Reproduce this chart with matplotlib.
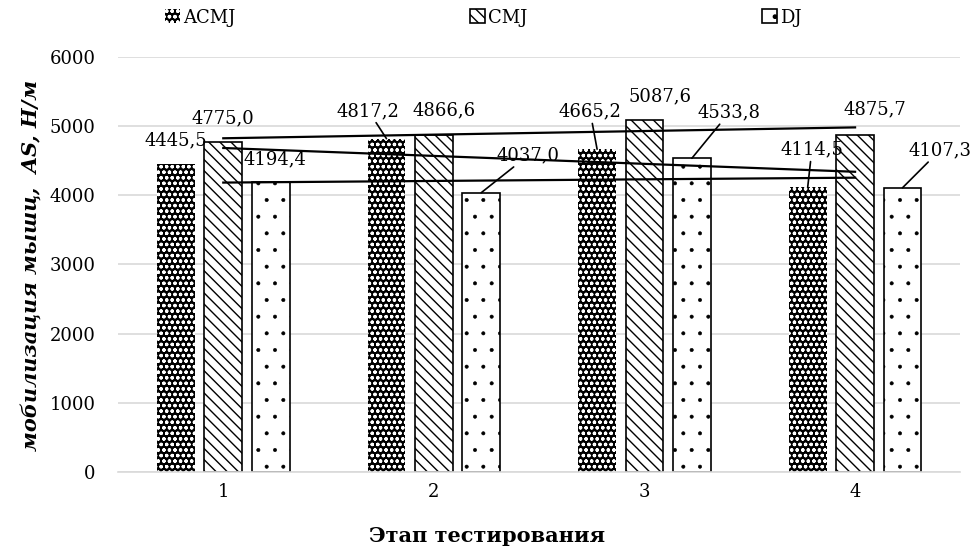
import numpy as np
import matplotlib
matplotlib.use("Agg")
import matplotlib.pyplot as plt

# ---------------------------------------------------------------------
# Data
# ---------------------------------------------------------------------
stages = [1, 2, 3, 4]
series_names = ["ACMJ", "CMJ", "DJ"]
acmj = [4445.5, 4817.2, 4665.2, 4114.5]
cmj = [4775.0, 4866.6, 5087.6, 4875.7]
dj = [4194.4, 4037.0, 4533.8, 4107.3]
y_ticks = [0, 1000, 2000, 3000, 4000, 5000, 6000]

# ---------------------------------------------------------------------
# Styling / layout
# ---------------------------------------------------------------------
plt.rcParams["font.family"] = ["DejaVu Serif"]

bar_w = 0.18
offsets = [-0.225, 0.0, 0.225]
styles = [
    dict(facecolor="black", edgecolor="white", linewidth=0, hatch="ooo"),
    dict(facecolor="white", edgecolor="black", linewidth=1.2, hatch="\\\\\\"),
    dict(facecolor="white", edgecolor="black", linewidth=1.2, hatch="."),
]
hatch_lw = [0.9, 1.0, 0.4]
# label offsets from bar top (points) and whether Excel drew a leader line
label_offsets = [
    [(0, 17), (-13, 20), (-5, 27), (3, 27)],
    [(0, 17), (7, 18), (11, 17), (14, 18)],
    [(3, 16), (34, 27), (27, 33), (27, 27)],
]
leaders = [
    [False, True, True, True],
    [False, False, False, False],
    [False, True, True, True],
]

fig = plt.figure(figsize=(9.75, 5.51), dpi=100)
ax = fig.add_axes([0.121, 0.143, 0.864, 0.754])

x = np.array(stages, dtype=float)
all_vals = [acmj, cmj, dj]
for i, (vals, name) in enumerate(zip(all_vals, series_names)):
    xs = x + offsets[i]
    with plt.rc_context({"hatch.linewidth": hatch_lw[i]}):
        ax.bar(xs, vals, width=bar_w, label=name, zorder=2, **styles[i])
    for j, v in enumerate(vals):
        dx, dy = label_offsets[i][j]
        txt = f"{v:.1f}".replace(".", ",")
        kw = {}
        if leaders[i][j]:
            kw["arrowprops"] = dict(arrowstyle="-", color="black", lw=1.2,
                                    shrinkA=0, shrinkB=0)
        ax.annotate(txt, xy=(xs[j], v), xytext=(dx, dy),
                    textcoords="offset points", ha="center", va="center",
                    fontsize=13, zorder=4, **kw)

# linear trendlines (Excel style), one per series
for vals in all_vals:
    k, b = np.polyfit(x, vals, 1)
    ax.plot([x[0], x[-1]], [k * x[0] + b, k * x[-1] + b],
            color="black", lw=1.6, zorder=3)

ax.set_xlim(0.5, 4.5)
ax.set_ylim(0, 6000)
ax.set_xticks(stages)
ax.set_yticks(y_ticks)
ax.tick_params(axis="both", length=0, labelsize=13)
ax.tick_params(axis="y", pad=16)
ax.tick_params(axis="x", pad=8)
ax.yaxis.grid(True, color="#d9d9d9", lw=1.2, zorder=0)
ax.set_axisbelow(True)
for s in ["top", "right", "left"]:
    ax.spines[s].set_visible(False)
ax.spines["bottom"].set_color("#d9d9d9")
ax.spines["bottom"].set_linewidth(1.2)

fig.text(0.031, 0.519, "мобилизация мышц,  AS, Н/м", rotation=90,
         ha="center", va="center", fontsize=15, fontweight="bold",
         fontstyle="italic")
fig.text(0.50, 0.027, "Этап тестирования", ha="center", va="center",
         fontsize=15, fontweight="bold")

fig.legend(loc="upper center", bbox_to_anchor=(0.496, 1.014), ncol=3,
           frameon=False, fontsize=13, handlelength=0.8, handleheight=0.8,
           handletextpad=0.2, columnspacing=13)

fig.savefig("out.png", dpi=100)
